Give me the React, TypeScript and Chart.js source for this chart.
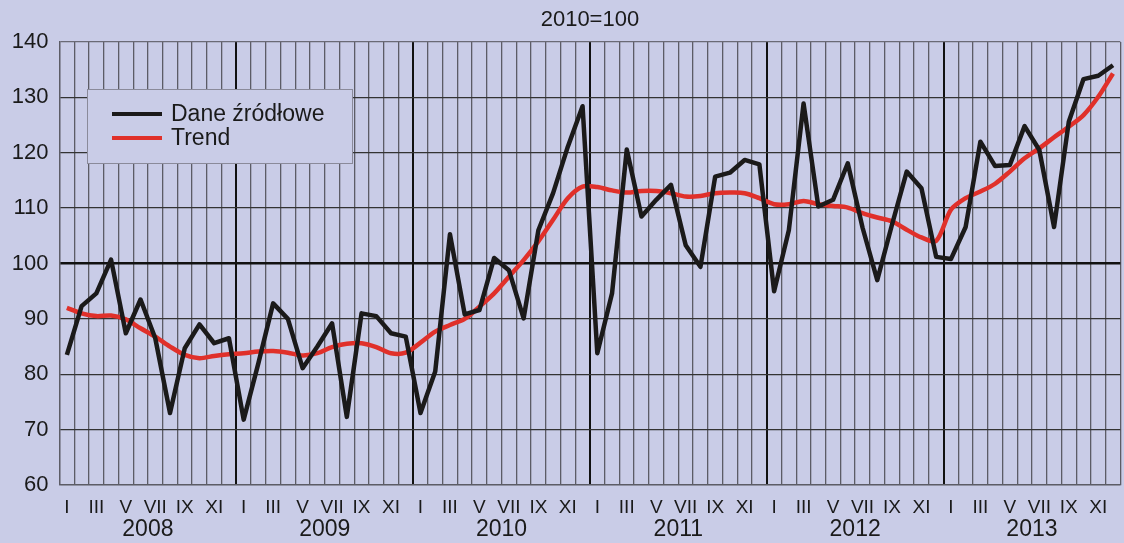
import React, { useEffect, useRef } from "react";
import { Chart, registerables } from "chart.js";

Chart.register(...registerables);

const years = ["2008", "2009", "2010", "2011", "2012", "2013"];
const months = ["I", "II", "III", "IV", "V", "VI", "VII", "VIII", "IX", "X", "XI", "XII"];
const yTicks = [60, 70, 80, 90, 100, 110, 120, 130, 140];

const dane2008 = [83.5, 92.3, 94.6, 100.7, 87.4, 93.5, 86.5, 73, 84.7, 89, 85.6, 86.5];
const dane2009 = [71.8, 82, 92.8, 90, 81.1, 85, 89.2, 72.3, 91, 90.5, 87.4, 86.8];
const dane2010 = [73, 80.5, 105.3, 90.8, 91.6, 101, 98.8, 90.1, 106, 112.7, 121.1, 128.4];
const dane2011 = [83.8, 94.6, 120.6, 108.5, 111.5, 114.2, 103.3, 99.4, 115.7, 116.4, 118.7, 117.9];
const dane2012 = [95, 106, 128.9, 110.3, 111.5, 118.1, 106.5, 97, 107, 116.6, 113.6, 101.2];
const dane2013 = [100.8, 106.6, 122, 117.6, 117.8, 124.8, 120.5, 106.6, 125.6, 133.3, 133.9, 135.8];

const trend2008 = [92, 91, 90.5, 90.6, 89.9, 88.3, 86.8, 85, 83.5, 82.9, 83.3, 83.6];
const trend2009 = [83.8, 84.1, 84.2, 83.9, 83.4, 83.8, 84.9, 85.5, 85.6, 84.9, 83.8, 83.9];
const trend2010 = [85.7, 87.7, 88.9, 90, 92.2, 94.6, 97.6, 100.6, 104, 107.9, 111.8, 113.9];
const trend2011 = [113.8, 113.2, 112.8, 113.1, 113.1, 112.7, 112.1, 112.2, 112.7, 112.8, 112.7, 111.8];
const trend2012 = [110.7, 110.7, 111.3, 110.7, 110.4, 110.1, 109.1, 108.3, 107.6, 106.1, 104.7, 104.1];
const trend2013 = [109.7, 111.8, 113, 114.4, 116.6, 119, 120.8, 122.8, 124.7, 126.8, 130.1, 134.3];

const titleText = "2010=100";
const seriesNames = ["Dane źródłowe", "Trend"];

const BG = "#c9cce7";
const FONT = "'Liberation Sans', Arial, Helvetica, sans-serif";
const BLACK = "#1b1a1a";
const RED = "#e0302a";

export default function App() {
  const ref = useRef<HTMLCanvasElement>(null);

  useEffect(() => {
    document.body.style.margin = "0";
    document.body.style.background = BG;
    const labels = years.flatMap(() => months);
    const dane = [...dane2008, ...dane2009, ...dane2010, ...dane2011, ...dane2012, ...dane2013];
    const trend = [...trend2008, ...trend2009, ...trend2010, ...trend2011, ...trend2012, ...trend2013];

    const decor = {
      id: "decor",
      beforeDraw(chart: any) {
        const c = chart.ctx;
        c.save();
        c.fillStyle = BG;
        c.fillRect(0, 0, chart.width, chart.height);
        c.restore();
      },
      afterDraw(chart: any) {
        const c = chart.ctx;
        const xs = chart.scales.x;
        const area = chart.chartArea;
        c.save();
        // title
        c.fillStyle = "#1a1a1a";
        c.font = `22px ${FONT}`;
        c.textAlign = "center";
        c.textBaseline = "middle";
        c.fillText(titleText, (area.left + area.right) / 2, 20);
        // year labels
        c.font = `23px ${FONT}`;
        years.forEach((y, i) => {
          const x0 = xs.getPixelForValue(i * 12);
          const x1 = xs.getPixelForValue(i * 12 + 11);
          c.fillText(y, (x0 + x1) / 2, 530);
        });
        // legend
        const lx = 87, ly = 89, lw = 265, lh = 74;
        c.fillStyle = BG;
        c.fillRect(lx, ly, lw, lh);
        c.strokeStyle = "#8a8a9a";
        c.lineWidth = 1;
        c.strokeRect(lx + 0.5, ly + 0.5, lw, lh);
        const cols = [BLACK, RED];
        seriesNames.forEach((n, i) => {
          const yy = ly + 25 + i * 24;
          c.strokeStyle = cols[i];
          c.lineWidth = 4;
          c.beginPath();
          c.moveTo(112, yy);
          c.lineTo(162, yy);
          c.stroke();
          c.fillStyle = "#1a1a1a";
          c.font = `23px ${FONT}`;
          c.textAlign = "left";
          c.textBaseline = "middle";
          c.fillText(n, 171, yy + 1);
        });
        c.restore();
      },
    };

    const chart = new Chart(ref.current!, {
      type: "line",
      data: {
        labels,
        datasets: [
          {
            label: seriesNames[0],
            data: dane,
            borderColor: BLACK,
            borderWidth: 4.5,
            pointRadius: 0,
            tension: 0,
            borderJoinStyle: "round",
          },
          {
            label: seriesNames[1],
            data: trend,
            borderColor: RED,
            borderWidth: 4.5,
            pointRadius: 0,
            tension: 0.3,
          },
        ],
      },
      options: {
        responsive: false,
        animation: false,
        layout: { padding: { top: 42, right: 1.5, left: 0, bottom: 0 } },
        plugins: { legend: { display: false }, title: { display: false }, tooltip: { enabled: false } },
        scales: {
          x: {
            type: "category",
            offset: true,
            afterFit: (s: any) => {
              s.height = 58;
            },
            grid: {
              offset: true,
              drawTicks: false,
              color: (ctx: any) =>
                ctx.index % 12 === 0 && ctx.index !== 0 && ctx.index !== 72 ? "#111" : "#5c5c66",
              lineWidth: (ctx: any) =>
                ctx.index % 12 === 0 && ctx.index !== 0 && ctx.index !== 72 ? 2 : 1.3,
            },
            border: { display: true, color: "#5c5c66", width: 1.3 },
            ticks: {
              autoSkip: false,
              maxRotation: 0,
              minRotation: 0,
              padding: 11,
              color: "#1a1a1a",
              font: { family: FONT, size: 19 },
              callback: (_v: any, i: number) => (i % 2 === 0 ? months[i % 12] : ""),
            },
          },
          y: {
            min: yTicks[0],
            max: yTicks[yTicks.length - 1],
            afterFit: (s: any) => {
              s.width = 59.5;
            },
            afterBuildTicks: (s: any) => {
              s.ticks = yTicks.map((v) => ({ value: v }));
            },
            grid: {
              drawTicks: false,
              color: (ctx: any) => (ctx.tick && ctx.tick.value === 100 ? "#111" : ctx.tick && ctx.tick.value === 140 ? "#6a6a75" : "#333"),
              lineWidth: (ctx: any) => (ctx.tick && ctx.tick.value === 100 ? 2.5 : 1.3),
            },
            border: { display: true, color: "#5c5c66", width: 1.3 },
            ticks: {
              padding: 11,
              color: "#1a1a1a",
              font: { family: FONT, size: 22 },
            },
          },
        },
      },
      plugins: [decor],
    });
    return () => chart.destroy();
  }, []);

  return <canvas ref={ref} width={1124} height={543} style={{ display: "block" }} />;
}
